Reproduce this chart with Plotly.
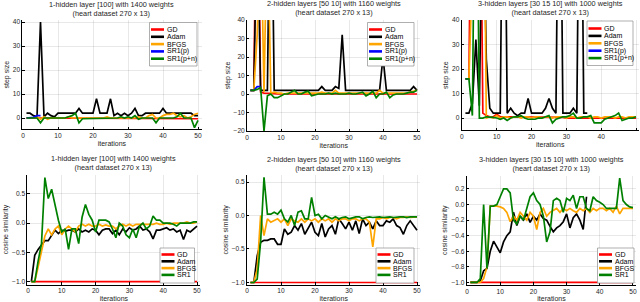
import plotly.graph_objects as go

iterations = list(range(1, 51))

# ---------- top row: step size ----------
tl_gd = [0,0,0,0,0,0,0,0,0,0, 0,0,0,0,0,0,0,0,0,0, 0,0,0,0,0,0,0,0,0,0,
         0,0,0,0,0,0,0,0,0,0, 0,0,-0.3,-0.3,-0.3,-0.3,-0.3,-0.3,-0.3,-0.3]
tl_adam = [2,2,1,0.5,40,0.5,2,1,0.5,2, 2,2,2,2,2,4,2,2,2,2, 8,2,2,2,8,1,2,1,2,1,
           2,4,1,1,2,2,2,2,2,4, 2,2,2,2,2,2,2,2,1,1]
tl_bfgs = [0,0,0,0.5,-0.5,0.5,-0.5,0,0,0, 0,0,0.5,0,0,0,0,0,0,0, 0,0,0,0.5,0,0,0,0,0,0,
           0,0,0.5,0,0,1,1.5,0,0,1, 1.5,1.5,2,1,0.5,1,0,0.5,1.5,2]
tl_sr1p = [0,0,0.3,1,1]
tl_sr1pn = [0,0,0,0,-2,0,0,0,0,0, 0,0,0.5,1,2,-2,-0.3,-0.3,0,0, 0,0,0,0,0,0,0,0.5,0,0.5,
            0,1,-0.5,0,0,0,0,-2,0,0, 0,0,0,0.5,2,0,0,0,-4,-1]

tm_gd = [2,2,150,1,0.5,0.5,0.3,0.2,0,0, 0,0,0,0,0,0,0,0,0,0, 0,0,0,0,0,0,0,0,0,0,
         0,0,0,0,0,0,0,0,0,0, 0,0,0,0,0,0,0,0,0,0]
tm_adam = [2,2,100,2,2,2,150,2,2,2, 2,2,2,2,2,2,2,2,2,2, 2,4,2,2,2,4,3,32,2,2,
           2,2,2,2,2,2,2,2,2,20, 2,2,2,2,2,2,2,2,4,2]
tm_bfgs = [2,2,32,100,1,100,0.5,1,0.5,0.5, 0,0.5,0.5,0.5,0.5,0.5,0.5,0.5,0.5,0.5,
           0.5,1,0.5,0.5,0.5,2,0.5,0.5,0.5,0.5, 0.5,0.5,0.5,0.5,0.5,0.5,0.5,0.5,2,0.5,
           0.5,0.5,0.5,0.5,0.5,0.5,0.5,1,1.5,2]
tm_sr1p = [2,2,4,4]
tm_sr1pn = [2,2,2.5,3.5,-20,-1,0,-2,-2,-1, 0,0,1,2,0,0,1,1.5,-1,-0.5, 0,0,0,0.5,0,0.5,0,0,0,0.5,
            0,0,0.5,1,-1,0,1.5,-2,0,0, 1,-2,-0.5,0,0,0,0.5,1,1,2]

tr_gd = [16,16,150,150,150,2,1,0.5,0.5,1.5, 0.5,0.5,0.5,0.5,0.3,0.3,0.3,0.3,0.3,0.3,
         0.3,0.3,0.3,0.3,0.3,0.3,0.3,0.3,0.3,0, 0,0,0,0,0,0,0,0,0,0, 0,0,0,0,0,0,0,0,0,0]
tr_adam = [2,2,6,32,5,100,24,4,2,2, 2,150,2,4,2,1,2,2,8,2, 2,2,2,4,8,4,2,150,2,2,
           2,4,2,150,2,2]
tr_bfgs = [16,16,60,150,150,150,0,0.5,0,1, 0,0.5,0.5,0,0.5,0.5,0,0.5,0.5,0,
           0.5,0.5,0,0.5,0.5,0,0.5,0.5,0.5,0, 0.5,0.5,0,0.5,0.5,0.5,0,0.5,0.5,0,
           0.5,0.5,0.5,0,0.5,0.5,0,0.5,0.5,0.5]
tr_sr1p = [16,16]
tr_sr1pn = [16,16,1,150,0,0,0.5,0.5,0.3,0, -0.5,0,-1,0,0.5,0.5,1,0,-0.5,-0.5,
            -0.5,0,0,0.5,1,-2,-0.5,0,0.5,0.5, 1,2,0,0,0.5,0.5,1,-2,-2,-2,
            -0.5,0,0.5,1,2,-1,-0.5,0,0,0.5]

# ---------- bottom row: cosine similarity ----------
bl_gd = [-1]*50
bl_adam = [-1,-0.55,-0.45,-0.38,-0.3,-0.3,-0.22,-0.12,-0.18,-0.12, -0.14,-0.12,-0.12,-0.15,-0.1,
           -0.15,-0.12,-0.15,-0.1,-0.12, -0.2,-0.12,-0.1,-0.1,-0.18,-0.12,-0.2,-0.1,-0.15,-0.08,
           -0.12,-0.1,-0.05,-0.12,-0.1,-0.15,-0.27,-0.12,-0.12,-0.1, -0.08,-0.12,-0.1,-0.15,-0.12,
           -0.28,-0.12,-0.15,-0.1,-0.05]
bl_bfgs = [-1,-1,-0.75,-0.5,-0.22,-0.1,-0.2,-0.1,-0.05,-0.2, -0.1,-0.05,-0.1,-0.15,-0.05,
           -0.02,-0.05,-0.02,-0.05,-0.05, -0.02,-0.05,-0.03,-0.05,-0.05,-0.1,-0.05,-0.02,-0.05,-0.02,
           -0.05,-0.02,-0.02,-0.02,-0.02,-0.02,-0.02,0,-0.02,-0.02, 0,-0.02,0,0,0,0,0.02,0,0,0.02]
bl_sr1 = [-1,-1,-0.65,-0.35,0.78,0.42,0.58,0.3,0.05,-0.15, -0.1,-0.45,-0.1,-0.1,-0.35,
          0.1,0.32,0.15,0.05,-0.15, 0.05,0.05,0.05,0.02,-0.1,-0.25,0,-0.05,-0.2,-0.25,
          -0.1,-0.25,-0.05,0,-0.1,-0.05,0.12,0.05,0.05,0, 0,0,-0.02,-0.05,0,0,0,0,0.02,0.02]

bm_gd = [-1]*50
bm_adam = [-1,-1,-0.6,-0.4,-0.37,-0.37,-0.35,-0.35,-0.43,-0.43, -0.2,-0.28,-0.25,-0.15,-0.22,
           -0.12,-0.28,-0.18,-0.1,-0.25, -0.3,-0.12,-0.32,-0.2,-0.15,-0.28,-0.05,-0.12,-0.2,-0.1,
           -0.22,-0.08,-0.27,-0.05,-0.15,-0.1,-0.2,-0.08,-0.15,-0.15, -0.08,-0.1,-0.05,-0.15,-0.18,
           -0.28,-0.15,-0.08,-0.15,-0.22]
bm_bfgs = [-1,-1,-0.8,0,-0.3,-0.05,-0.1,-0.07,-0.05,-0.1, -0.05,-0.15,-0.05,-0.08,-0.1,
           -0.05,-0.1,-0.05,-0.08,-0.05, -0.1,-0.05,-0.08,-0.05,-0.1,-0.05,-0.08,-0.05,-0.05,-0.08,
           -0.05,-0.05,-0.08,-0.05,-0.05,-0.1,-0.47,-0.05,-0.05,-0.03, -0.05,-0.03,-0.03,-0.05,-0.03,
           -0.03,-0.02,-0.03,-0.02,-0.02]
bm_sr1 = [-1,-1,-0.95,-0.4,0.57,0.02,0.02,0.05,0.02,0.08, -0.05,-0.1,0,-0.15,0.05,
          0.07,-0.05,-0.05,0.27,0, 0.02,-0.05,0,-0.03,-0.05,-0.02,-0.05,-0.03,-0.02,-0.05,
          -0.03,-0.02,-0.02,-0.05,-0.03,-0.02,-0.03,-0.02,-0.02,-0.03, -0.02,-0.02,-0.03,-0.02,-0.02,
          -0.02,-0.03,-0.02,-0.02,-0.02]

br_gd = [-1]*50
br_adam = [-1,-1,-1,-0.98,-0.85,-0.82,-0.6,-0.47,-0.55,-0.62, -0.48,-0.4,-0.35,-0.1,-0.27,
           -0.15,-0.2,-0.12,-0.23,-0.15, -0.2,-0.12,-0.18,-0.2,-0.28,-0.35,-0.3,-0.27,-0.22,-0.12,
           -0.3,-0.17,-0.12,-0.2,-0.32,0.1]
br_bfgs = [-1,-1,-1,-1,-0.95,-0.8,-0.02,-0.02,-0.02,-0.03, -0.05,-0.1,-0.22,-0.15,-0.2,
           -0.1,-0.15,-0.2,-0.1,-0.15, -0.32,-0.1,-0.05,-0.15,-0.1, -0.08,-0.05,-0.1,-0.05,-0.08,
           -0.05,-0.08,-0.1,-0.05,-0.08, -0.05,-0.1,-0.05,-0.08,-0.05, -0.05,-0.08,-0.05,-0.1,-0.02,
           -0.12,-0.05,-0.05,-0.05,-0.05]
br_sr1 = [-1,-1,-1,-0.95,0,-0.82,-0.02,-0.02,0,0.1, 0.2,0.2,0.15,-0.2,-0.25,
          -0.15,-0.2,-0.05,0.1,0.15, 0.05,0,-0.15,-0.48,-0.35,0.05,0.08,0.05,-0.1,0.08,
          0.05,0.12,-0.05,0.1,0.1,-0.05,-0.08,0.1,0.05,0.03, 0,-0.05,-0.05,-0.05,-0.05,
          0.34,0.05,0,-0.03,-0.04]

titles = [
    "1-hidden layer [100] with 1400 weights<br>(heart dataset 270 x 13)",
    "2-hidden layers [50 10] with 1160 weights<br>(heart dataset 270 x 13)",
    "3-hidden layers [30 15 10] with 1000 weights<br>(heart dataset 270 x 13)",
]

W, H = 640, 302
COL = {"GD": "#ff0000", "Adam": "#000000", "BFGS": "#ffa500",
       "SR1(p)": "#0000ff", "SR1(p+n)": "#008000", "SR1": "#008000"}

# panel geometry in pixels: (x0px, x1px, xrange, y0px(top), y1px(bottom), yrange)
panels = [
    (22.3, 201.5, [-0.2, 51], 20.1, 129.3, [-4.7, 40.8]),
    (247, 420.4, [0, 51], 20, 131, [-20, 40]),
    (461.6, 638.8, [-0.1, 50.8], 20, 130.3, [-5, 40]),
    (27.3, 200.4, [-0.2, 51], 174.6, 284.5, [-1.05, 0.83]),
    (247, 420.4, [0, 51], 175.3, 284.5, [-1.03, 0.6]),
    (466.7, 636.3, [-0.1, 51], 175.7, 284.8, [-1.03, 0.37]),
]
# legend boxes in pixels: (left, right, top, bottom, first entry y, spacing)
legend_boxes = [
    (149.5, 197, 22.5, 66, 29.5, 7.3),
    (367.5, 414, 22.5, 66, 29.5, 7.3),
    (587, 633, 21, 65.5, 28.5, 7.4),
    (160, 194.5, 248, 283, 254.5, 6.8),
    (376, 414, 248, 283, 254.5, 6.8),
    (597.5, 634, 248, 283, 254.5, 6.8),
]

series = [
    [("GD", tl_gd), ("Adam", tl_adam), ("BFGS", tl_bfgs), ("SR1(p)", tl_sr1p), ("SR1(p+n)", tl_sr1pn)],
    [("GD", tm_gd), ("Adam", tm_adam), ("BFGS", tm_bfgs), ("SR1(p)", tm_sr1p), ("SR1(p+n)", tm_sr1pn)],
    [("GD", tr_gd), ("Adam", tr_adam), ("BFGS", tr_bfgs), ("SR1(p)", tr_sr1p), ("SR1(p+n)", tr_sr1pn)],
    [("GD", bl_gd), ("Adam", bl_adam), ("BFGS", bl_bfgs), ("SR1", bl_sr1)],
    [("GD", bm_gd), ("Adam", bm_adam), ("BFGS", bm_bfgs), ("SR1", bm_sr1)],
    [("GD", br_gd), ("Adam", br_adam), ("BFGS", br_bfgs), ("SR1", br_sr1)],
]

ytick_sets = [
    [0, 10, 20, 30, 40],
    [-20, -10, 0, 10, 20, 30, 40],
    [0, 10, 20, 30, 40],
    [-1.0, -0.5, 0.0, 0.5],
    [-1.0, -0.5, 0.0, 0.5],
    [-1.0, -0.8, -0.6, -0.4, -0.2, 0.0, 0.2],
]
ytick_text = [
    ["0", "10", "20", "30", "40"],
    ["\u221220", "\u221210", "0", "10", "20", "30", "40"],
    ["0", "10", "20", "30", "40"],
    ["\u22121.0", "\u22120.5", "0.0", "0.5"],
    ["\u22121.0", "\u22120.5", "0.0", "0.5"],
    ["\u22121.0", "\u22120.8", "\u22120.6", "\u22120.4", "\u22120.2", "0.0", "0.2"],
]
xtick_vals = [0, 10, 20, 30, 40, 50]

FONT = "Liberation Sans"
TXT = "#262626"


def px(xp):
    return xp / W


def py(yp):
    return 1 - yp / H


fig = go.Figure()
layout = dict(width=W, height=H, margin=dict(l=0, r=0, t=0, b=0),
              plot_bgcolor="white", paper_bgcolor="white", showlegend=False,
              font=dict(family=FONT, size=7, color=TXT), annotations=[], shapes=[])

for p, (geom, sers) in enumerate(zip(panels, series)):
    x0, x1, xr, yt, yb, yr = geom
    n = p + 1
    xa = "x" if n == 1 else f"x{n}"
    ya = "y" if n == 1 else f"y{n}"
    for name, vals in sers:
        fig.add_trace(go.Scatter(
            x=iterations[:len(vals)], y=vals, mode="lines", name=name,
            line=dict(color=COL[name], width=1.7),
            xaxis=xa, yaxis=ya, cliponaxis=True, hoverinfo="skip"))
    axis_common = dict(showline=True, linecolor="#000", linewidth=0.8,
                       ticks="inside", ticklen=2.5, tickcolor="#000", tickwidth=0.6,
                       showgrid=True, gridcolor="rgba(0,0,0,0.09)", gridwidth=0.6,
                       zeroline=False, mirror=False, automargin=False,
                       tickfont=dict(size=6.6, family=FONT, color=TXT))
    layout["xaxis" if n == 1 else f"xaxis{n}"] = dict(
        domain=[px(x0), px(x1)], range=xr, anchor=ya,
        tickvals=xtick_vals,
        title=dict(text="iterations", standoff=2.5, font=dict(size=7, family=FONT, color=TXT)),
        **axis_common)
    layout["yaxis" if n == 1 else f"yaxis{n}"] = dict(
        domain=[py(yb), py(yt)], range=yr, anchor=xa,
        tickvals=ytick_sets[p], ticktext=ytick_text[p],
        title=dict(text="step size" if p < 3 else "cosine similarity", standoff=2,
                   font=dict(size=7, family=FONT, color=TXT)),
        **axis_common)

    # legend drawn as a boxed key in the corner of the panel
    L, R, T, B, e0, de = legend_boxes[p]
    layout["shapes"].append(dict(type="rect", xref="paper", yref="paper",
                                 x0=px(L), x1=px(R), y0=py(B), y1=py(T),
                                 fillcolor="white", line=dict(color="#8c8c8c", width=0.7),
                                 layer="above"))
    for k, (name, _) in enumerate(sers):
        ye = e0 + k * de
        layout["shapes"].append(dict(type="line", xref="paper", yref="paper",
                                     x0=px(L + 1.5), x1=px(L + 14.5), y0=py(ye), y1=py(ye),
                                     line=dict(color=COL[name], width=2.6), layer="above"))
        layout["annotations"].append(dict(
            text=name, xref="paper", yref="paper", x=px(L + 15), y=py(ye),
            xanchor="left", yanchor="middle", showarrow=False,
            font=dict(size=7, family=FONT, color="#000")))

    # title
    layout["annotations"].append(dict(
        text=titles[p % 3], xref="paper", yref="paper",
        x=px((x0 + x1) / 2), y=py(yt - 0.5), xanchor="center", yanchor="bottom",
        showarrow=False, font=dict(size=7.3, family=FONT, color=TXT)))

fig.update_layout(**layout)
fig.write_html("out.html", config={"displayModeBar": False},
               post_script="document.body.style.margin='0';document.body.style.overflow='hidden';")
